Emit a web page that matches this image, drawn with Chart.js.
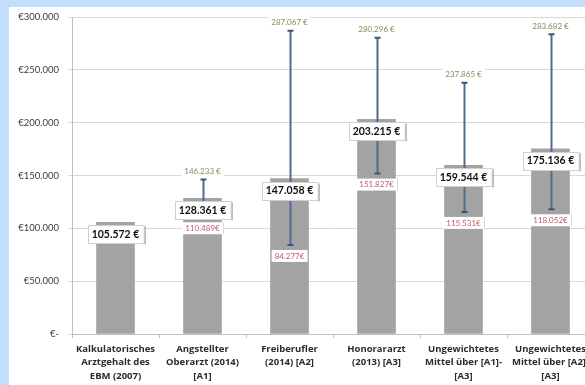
<!DOCTYPE html>
<html>
<head>
<meta charset="utf-8">
<script src="https://cdn.jsdelivr.net/npm/chart.js@4.4.1/dist/chart.umd.min.js"></script>
<style>
html,body{margin:0;padding:0;width:585px;height:385px;overflow:hidden;background:#c2defc;}
#panel{position:absolute;left:9px;top:7px;width:600px;height:400px;background:#ffffff;}
#c{position:absolute;left:0;top:0;}
</style>
</head>
<body>
<div id="panel"></div>
<canvas id="c" width="600" height="385"></canvas>
<script>
const categories = [
  ["Kalkulatorisches","Arztgehalt des","EBM (2007)"],
  ["Angstellter","Oberarzt (2014)","[A1]"],
  ["Freiberufler","(2014) [A2]"],
  ["Honorararzt","(2013) [A3]"],
  ["Ungewichtetes","Mittel über [A1]-","[A3]"],
  ["Ungewichtetes","Mittel über [A2]-","[A3]"]
];
const meanValues = [105572, 128361, 147058, 203215, 159544, 175136];
const minValues  = [null, 110489, 84277, 151827, 115531, 118052];
const maxValues  = [null, 146233, 287067, 280296, 237865, 283682];
const yTickValues = [0, 50000, 100000, 150000, 200000, 250000, 300000];

const FONT = "Lato, 'Open Sans', sans-serif";
const XFONT = "'Open Sans', Lato, sans-serif";

function fmtDE(v){
  return v.toString().replace(/\B(?=(\d{3})+(?!\d))/g, ".");
}

const overlayPlugin = {
  id: 'overlay',
  afterDatasetsDraw(chart){
    const ctx = chart.ctx;
    const meta = chart.getDatasetMeta(0);
    const y = chart.scales.y;
    ctx.save();
    meta.data.forEach((bar, i) => {
      if (minValues[i] == null) return;
      const x = Math.round(bar.x) + 0.5;
      const yTop = y.getPixelForValue(maxValues[i]);
      const yBot = y.getPixelForValue(minValues[i]);
      ctx.strokeStyle = '#4d6a8f';
      ctx.lineWidth = 2;
      ctx.beginPath();
      ctx.moveTo(x, yTop); ctx.lineTo(x, yBot);
      ctx.stroke();
      ctx.strokeStyle = '#3c5575';
      ctx.beginPath();
      ctx.moveTo(x-3, yTop); ctx.lineTo(x+3, yTop);
      ctx.moveTo(x-3, yBot); ctx.lineTo(x+3, yBot);
      ctx.stroke();
    });
    ctx.textAlign = 'center';
    ctx.textBaseline = 'middle';
    ctx.font = "8px " + FONT;
    meta.data.forEach((bar, i) => {
      if (maxValues[i] == null) return;
      const t = fmtDE(maxValues[i]) + " €";
      const ty = y.getPixelForValue(maxValues[i]) - 8;
      const w = ctx.measureText(t).width + 6;
      ctx.fillStyle = '#ffffff';
      ctx.fillRect(bar.x - w/2, ty - 6, w, 12);
      ctx.fillStyle = '#8a8a5c';
      ctx.fillText(t, bar.x, ty);
    });
    meta.data.forEach((bar, i) => {
      if (minValues[i] == null) return;
      const t = fmtDE(minValues[i]) + "€";
      const ty = y.getPixelForValue(minValues[i]) + 11;
      ctx.font = "8px " + FONT;
      const w = ctx.measureText(t).width + 6;
      ctx.fillStyle = '#ffffff';
      ctx.fillRect(bar.x - w/2, ty - 6, w, 12);
      ctx.strokeStyle = '#d8d8d8';
      ctx.lineWidth = 1;
      ctx.beginPath();
      ctx.moveTo(Math.round(bar.x + w/2)+0.5, ty - 6);
      ctx.lineTo(Math.round(bar.x + w/2)+0.5, ty + 6);
      ctx.stroke();
      ctx.fillStyle = '#c25a74';
      ctx.fillText(t, bar.x, ty);
    });
    meta.data.forEach((bar, i) => {
      const t = fmtDE(meanValues[i]) + " €";
      const ty = y.getPixelForValue(meanValues[i]) + 12;
      ctx.font = "bold 10.5px " + FONT;
      const w = ctx.measureText(t).width + 8;
      const bx = Math.round(bar.x - w/2) + 0.5;
      const by = Math.round(ty - 9) + 0.5;
      ctx.fillStyle = '#ffffff';
      ctx.fillRect(bx, by, w, 18);
      ctx.strokeStyle = '#d0d0d0';
      ctx.lineWidth = 1;
      ctx.strokeRect(bx, by, w, 18);
      ctx.strokeStyle = '#9a9a9a';
      ctx.beginPath();
      ctx.moveTo(bx + w + 1, by + 1); ctx.lineTo(bx + w + 1, by + 19);
      ctx.stroke();
      ctx.fillStyle = '#111111';
      ctx.fillText(t, bar.x, ty);
    });
    ctx.restore();
  }
};

new Chart(document.getElementById('c'), {
  type: 'bar',
  data: {
    labels: categories,
    datasets: [{
      data: meanValues,
      backgroundColor: '#a3a3a3',
      borderWidth: 0,
      barThickness: 38
    }]
  },
  options: {
    responsive: false,
    animation: false,
    devicePixelRatio: 1,
    layout: { padding: { top: 17, right: 6, left: 0, bottom: 0 } },
    plugins: { legend: { display: false }, tooltip: { enabled: false } },
    scales: {
      x: {
        grid: { drawOnChartArea: false, drawTicks: true, tickLength: 4, color: '#bfbfbf' },
        border: { color: '#bfbfbf' },
        ticks: {
          color: '#2b2b2b',
          font: { family: XFONT, size: 9.5, weight: 'bold', lineHeight: 1.45 },
          padding: 4,
          maxRotation: 0, autoSkip: false
        },
        afterFit(scale){ scale.height = 51; }
      },
      y: {
        min: 0, max: 300000,
        afterBuildTicks(scale){ scale.ticks = yTickValues.map(v => ({ value: v })); },
        grid: { color: '#d9d9d9', tickLength: 4, drawTicks: true },
        border: { color: '#bfbfbf' },
        ticks: {
          color: '#404040',
          font: { family: FONT, size: 9.5 },
          padding: 9,
          callback: v => v === 0 ? '€-' : '€' + fmtDE(v)
        },
        afterFit(scale){ scale.width = 72; scale.paddingTop = 0; scale.paddingBottom = 0; }
      }
    }
  },
  plugins: [overlayPlugin]
});
</script>
</body>
</html>
